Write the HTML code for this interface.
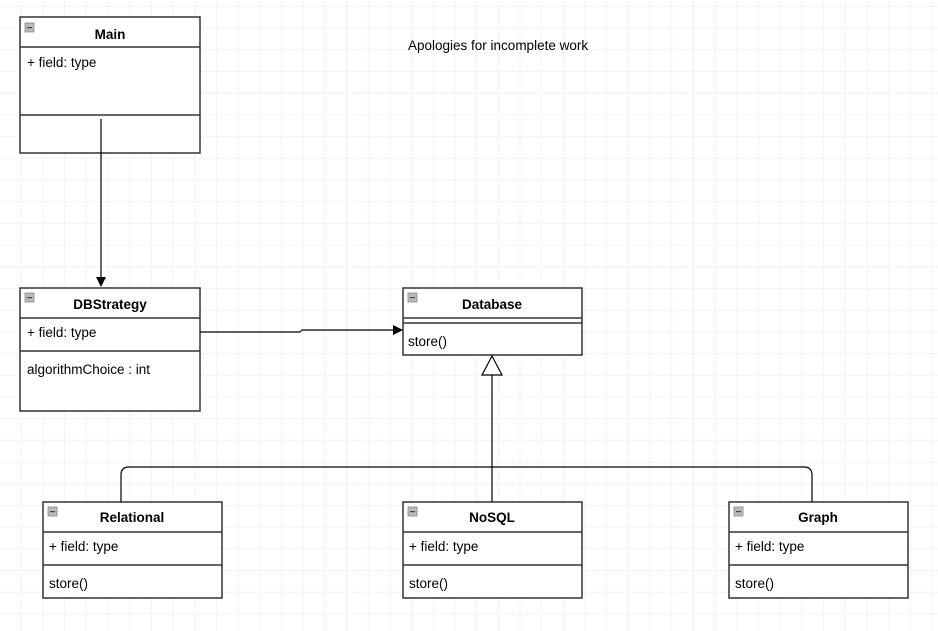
<!DOCTYPE html>
<html><head><style>
body{margin:0;width:938px;height:631px;overflow:hidden;background:#fff;
background-image:linear-gradient(#f2f2f2 1px,transparent 1px),linear-gradient(90deg,#f2f2f2 1px,transparent 1px);
background-size:21.7px 21.7px;background-position:-1px 6px;font-family:"Liberation Sans",sans-serif;}
</style></head><body>
<svg width="938" height="631" style="position:absolute;left:0;top:0" font-family="Liberation Sans, sans-serif" font-size="13.5">
<defs>
<g id="ic"><rect width="9" height="9" fill="#bbb" stroke="#888" stroke-width="0.8"/><rect x="2" y="4" width="5" height="1.2" fill="#444"/></g>
</defs>
<g stroke="#333" stroke-width="1.5" fill="#fff">
<rect x="20" y="17" width="180" height="136"/>
<line x1="20" y1="47" x2="200" y2="47"/><line x1="20" y1="115" x2="200" y2="115"/>
<rect x="20" y="288" width="180" height="123"/>
<line x1="20" y1="318" x2="200" y2="318"/><line x1="20" y1="351" x2="200" y2="351"/>
<rect x="403" y="288" width="179" height="67"/>
<line x1="403" y1="318" x2="582" y2="318"/><line x1="403" y1="323" x2="582" y2="323"/>
<rect x="43" y="502" width="179" height="96"/>
<line x1="43" y1="532" x2="222" y2="532"/><line x1="43" y1="565" x2="222" y2="565"/>
<rect x="403" y="502" width="179" height="96"/>
<line x1="403" y1="532" x2="582" y2="532"/><line x1="403" y1="565" x2="582" y2="565"/>
<rect x="729" y="502" width="179" height="96"/>
<line x1="729" y1="532" x2="908" y2="532"/><line x1="729" y1="565" x2="908" y2="565"/>
</g>
<use href="#ic" x="25" y="23"/><use href="#ic" x="25" y="293"/><use href="#ic" x="408" y="293"/>
<use href="#ic" x="48" y="507"/><use href="#ic" x="408" y="507"/><use href="#ic" x="734" y="507"/>
<g font-weight="bold" font-size="13.5" text-anchor="middle">
<text x="110" y="39">Main</text><text x="110" y="309">DBStrategy</text><text x="492" y="309">Database</text>
<text x="132" y="522">Relational</text><text x="492" y="522">NoSQL</text><text x="818" y="522">Graph</text>
</g>
<g>
<text x="27" y="67">+ field: type</text><text x="27" y="337">+ field: type</text><text x="27" y="374">algorithmChoice : int</text>
<text x="408" y="346">store()</text>
<text x="49" y="551">+ field: type</text><text x="49" y="588">store()</text>
<text x="409" y="551">+ field: type</text><text x="409" y="588">store()</text>
<text x="735" y="551">+ field: type</text><text x="735" y="588">store()</text>
<text x="408" y="50">Apologies for incomplete work</text>
</g>
<g stroke="#000" stroke-width="1.2" fill="none">
<line x1="101" y1="119" x2="101" y2="278"/>
<path d="M200 332 H300 L302 330 H394"/>
<line x1="492" y1="375" x2="492" y2="502"/>
<path d="M121 502 V475 Q121 467 129 467 H804 Q812 467 812 475 V502"/>
</g>
<path d="M96 277 L101 287 L106 277 Z" fill="#000"/>
<path d="M393 325 L403 330 L393 335 Z" fill="#000"/>
<path d="M492 356 L482 375 L502 375 Z" fill="#fff" stroke="#000" stroke-width="1.2"/>
</svg>
</body></html>
